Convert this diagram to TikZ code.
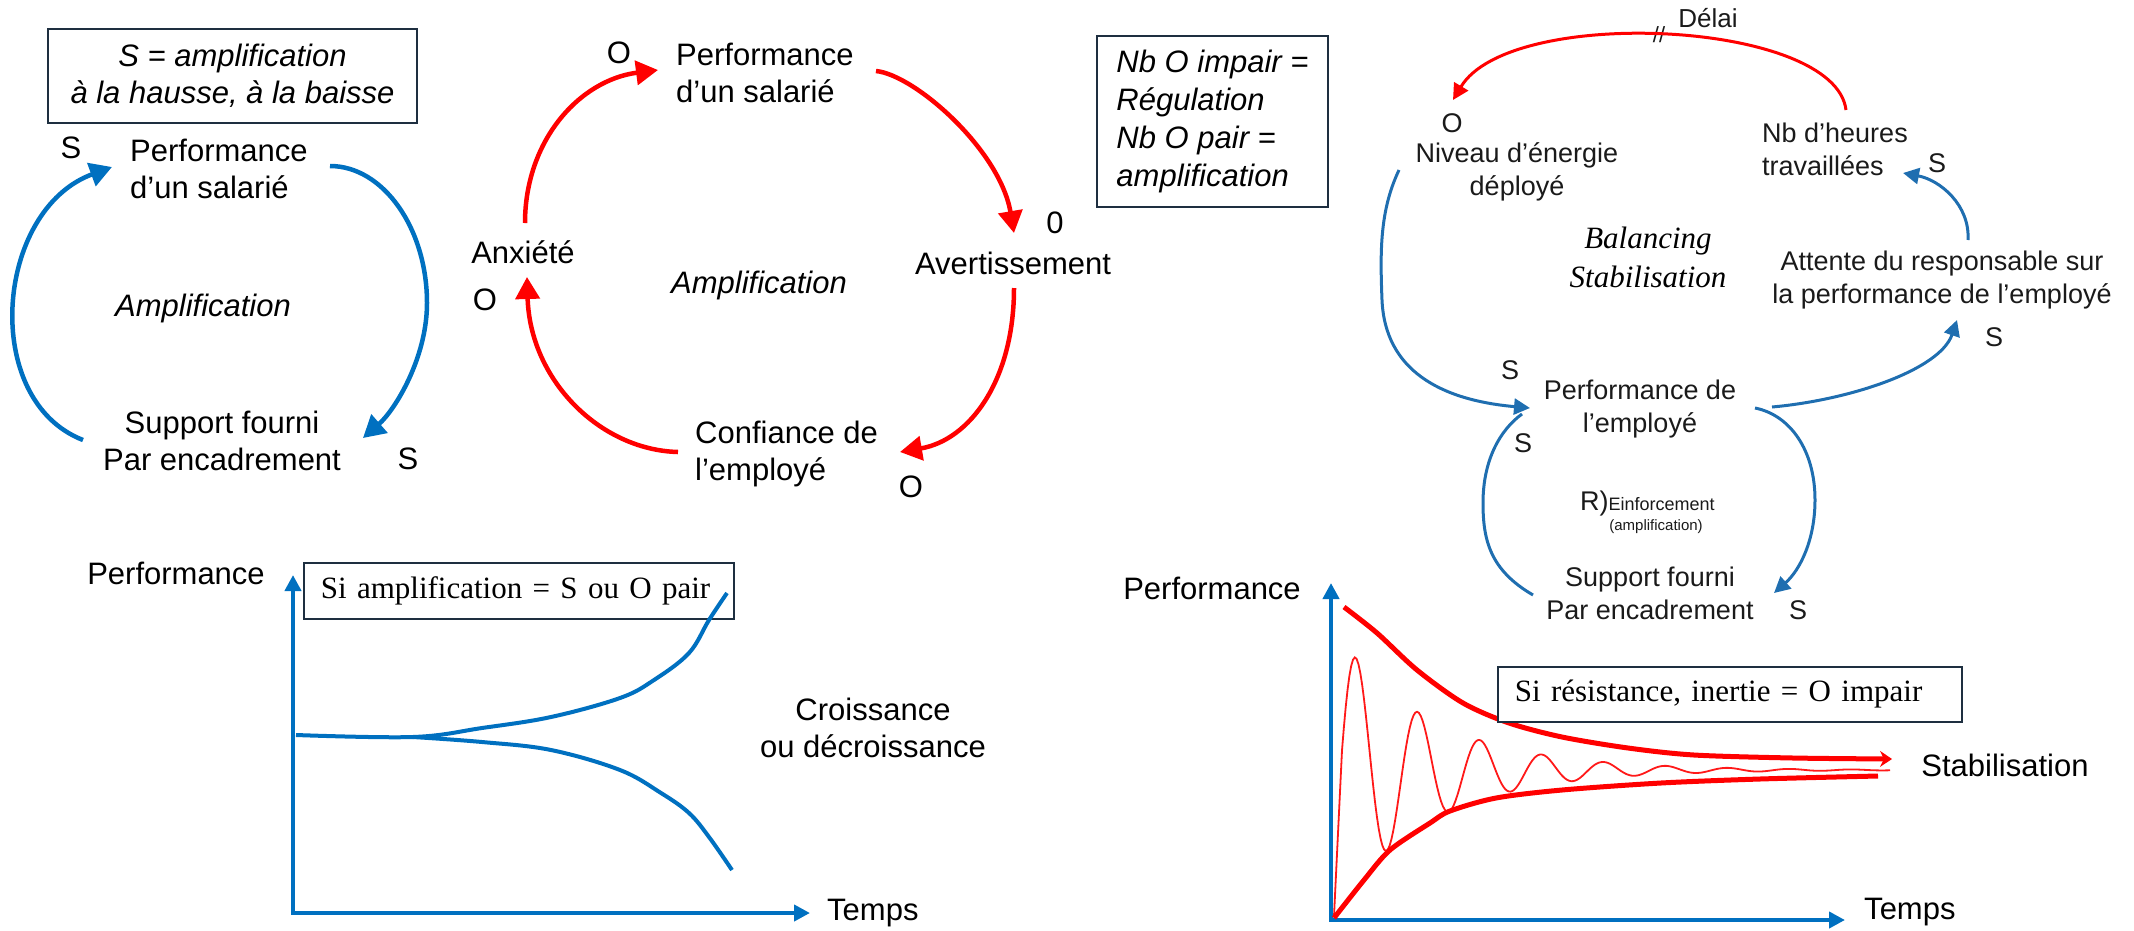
\documentclass[tikz,border=0pt]{standalone}
\usepackage{fontspec}
\setmainfont{Liberation Sans}
\newfontfamily\timesfont{Liberation Serif}
\usetikzlibrary{arrows.meta}
\definecolor{lblue}{HTML}{0070C0}
\definecolor{rblue}{HTML}{1F6EB0}
\definecolor{lred}{HTML}{FF0000}
\definecolor{boxc}{HTML}{1E2F40}
\definecolor{ink}{HTML}{1A1A1A}

\begin{document}
\begin{tikzpicture}[x=1pt,y=1pt,
  lbl/.style={inner sep=0pt, font=\fontsize{31}{37}\selectfont},
  itlbl/.style={inner sep=0pt, font=\fontsize{31}{37}\selectfont\itshape},
  rlbl/.style={inner sep=0pt, font=\fontsize{27}{33}\selectfont, text=ink},
  legend/.style={draw=boxc, line width=1.7pt},
  serifline/.style={font=\timesfont\fontsize{31}{37}\selectfont},
  bigarrow/.style={line width=4.5pt, -{Triangle[length=22pt,width=24pt]}},
  thinarrow/.style={line width=3pt, -{Triangle[length=16pt,width=16pt]}},
  thinline/.style={line width=3pt},
  axis/.style={line width=4pt, lblue, {Triangle[length=16pt,width=16pt]}-{Triangle[length=16pt,width=16pt]}},
]
\useasboundingbox (0,0) rectangle (2134,-930);

% ---------- reinforcing loop, blue ----------
\node[legend, minimum width=369pt, minimum height=94pt, inner sep=0pt, align=center,
      font=\fontsize{31}{37}\selectfont\itshape] (def1) at (232.5,-76)
      {S = amplification\\à la hausse, à la baisse};
\node[lbl, anchor=west, align=left] (perf1) at (130,-168.5) {Performance\\d’un salarié};
\node[lbl] (s1) at (71,-148) {S};
\node[lbl, align=center] (sup1) at (222,-441) {Support fourni\\Par encadrement};
\node[lbl] (s2) at (408,-459) {S};
\node[itlbl] (amp1) at (203,-308) {Amplification};

\draw[bigarrow, lblue] ([shift={(-139,1)}]sup1.center)
  .. controls +(-103,40) and +(-117,-43) .. ([shift={(-18,1.5)}]perf1.west);
\draw[bigarrow, lblue] ([shift={(200,2.5)}]perf1.west)
  .. controls +(53,0) and +(0,75) .. ++(97,-137)
  .. controls +(0,-55) and +(32,28) .. ([shift={(141,3)}]sup1.center);

% ---------- reinforcing loop, red ----------
\node[lbl] (o1) at (619,-53) {O};
\node[lbl, anchor=west, align=left] (perf2) at (676,-72.5) {Performance\\d’un salarié};
\node[lbl] (o2) at (1055,-223) {0};
\node[lbl] (avert) at (1013,-263) {Avertissement};
\node[lbl, anchor=west, align=left] (conf) at (695,-453.5) {Confiance de\\l’employé};
\node[lbl] (o3) at (911,-487) {O};
\node[lbl] (anx) at (523,-252) {Anxiété};
\node[lbl] (o4) at (485,-300) {O};
\node[itlbl] (amp2) at (759,-285) {Amplification};

\draw[bigarrow, lred] ([shift={(2,29)}]anx.center)
  .. controls +(0,83) and +(-78,-10) .. ([shift={(-18,2.5)}]perf2.west);
\draw[bigarrow, lred] ([shift={(200,1.5)}]perf2.west)
  .. controls +(39,-4) and +(-14,83) .. ([shift={(1,30)}]avert.center);
\draw[bigarrow, lred] ([shift={(1,-25)}]avert.center)
  .. controls +(0,-92) and +(70,12) .. ([shift={(205,1.5)}]conf.west);
\draw[bigarrow, lred] ([shift={(-17,1.5)}]conf.west)
  .. controls +(-78,2) and +(3,-103) .. ([shift={(4,-25)}]anx.center);

% ---------- parity rule ----------
\node[legend, minimum width=231pt, minimum height=171pt, inner sep=0pt, align=left,
      font=\fontsize{31}{38}\selectfont\itshape] (def2) at (1212.5,-121.5)
      {Nb O impair =\\Régulation\\Nb O pair =\\amplification};

% ---------- balancing + reinforcing loops ----------
\node[rlbl, align=center] (niv) at (1517,-171.5) {Niveau d’énergie\\déployé};
\node[rlbl] (o5) at (1452,-123) {O};
\node[rlbl, anchor=west, align=left] (nbh) at (1762,-149.5) {Nb d’heures\\travaillées};
\node[rlbl] (s3) at (1937,-163) {S};
\node[rlbl, align=center] (att) at (1942,-280) {Attente du responsable sur\\la performance de l’employé};
\node[rlbl] (s4) at (1994,-337) {S};
\node[inner sep=0pt, align=center, font=\timesfont\itshape\fontsize{31}{39}\selectfont] (bal)
  at (1648,-257.5) {Balancing\\Stabilisation};
\node[rlbl, align=center] (perf3) at (1640,-409) {Performance de\\l’employé};
\node[rlbl] (s5) at (1510,-370) {S};
\node[rlbl] (s6) at (1523,-443) {S};
\node[rlbl, anchor=base west] (reinf) at (1580,-510)
  {\fontsize{27}{30}\selectfont R)\fontsize{18}{20}\selectfont Einforcement};
\node[rlbl, font=\fontsize{15}{17}\selectfont] (ampl3) at (1656,-527) {(amplification)};
\node[rlbl, align=center] (sup3) at (1650,-593.5) {Support fourni\\Par encadrement};
\node[rlbl] (s7) at (1798,-610) {S};
\node[rlbl, font=\fontsize{26}{30}\selectfont] (delai) at (1708,-18) {Délai};
\node[rlbl, font=\fontsize{22}{26}\selectfont] (delaymark) at (1659,-35) {//};

\draw[thinarrow, lred] ([shift={(84,39.5)}]nbh.west)
  .. controls +(-11,90) and +(57,95) .. ([shift={(1,23)}]o5.center);
\draw[thinarrow, rblue] ([shift={(26,40)}]att.center)
  .. controls +(2,35) and +(37,-7) .. ([shift={(141,-23.5)}]nbh.west);
\draw[thinarrow, rblue] ([shift={(132,2)}]perf3.center)
  .. controls +(78,7) and +(-17,-50) .. ([shift={(15,-40)}]att.center);
\draw[thinarrow, rblue] ([shift={(-118,1.5)}]niv.center)
  .. controls +(-19,-40) and +(-2,50) .. ++(-17,-130)
  .. controls +(3,-70) and +(-90,8) .. ([shift={(-110,1)}]perf3.center);
\draw[thinline, rblue] ([shift={(-117,-1.5)}]sup3.center)
  .. controls +(-43,25) and +(0,-37) .. ++(-50,92)
  .. controls +(0,43) and +(-22,-16) .. ([shift={(-118,-5)}]perf3.center);
\draw[thinarrow, rblue] ([shift={(115,1)}]perf3.center)
  .. controls +(35,-7) and +(0,50) .. ++(60,-92)
  .. controls +(0,-40) and +(26,23) .. ([shift={(124,0.5)}]sup3.center);

% ---------- growth / decline chart ----------
\coordinate (oL) at (293,-913);
\coordinate (ytipL) at (293,-575);
\coordinate (xtipL) at (810,-913);
\draw[axis] (ytipL) -- (oL) -- (xtipL);
\node[lbl] (perfL) at (176,-573) {Performance};
\node[lbl, anchor=west] (tempsL) at (827,-913) {Temps};
\node[legend, anchor=west, text width=396pt, inner xsep=17pt, inner ysep=0pt,
      minimum height=56pt, align=left, serifline] (ruleL) at (303,-591)
      {Si amplification = S ou O pair};
\draw[lblue, line width=4pt] plot[smooth, tension=0.6] coordinates
  {(296,-735) (413,-737) (482,-728) (551,-717) (620,-698) (654,-680) (689,-653) (709,-620) (727,-593)};
\draw[lblue, line width=4pt] plot[smooth, tension=0.6] coordinates
  {(413,-737) (482,-742) (551,-750) (620,-770) (661,-793) (689,-813) (709,-837) (732,-870)};
\node[lbl, align=center] (growth) at (873,-727.5) {Croissance\\ou décroissance};

% ---------- damped oscillation chart ----------
\coordinate (oR) at (1331,-920);
\coordinate (ytipR) at (1331,-583);
\coordinate (xtipR) at (1845,-920);
\draw[axis] (ytipR) -- (oR) -- (xtipR);
\node[lbl] (perfR) at (1212,-588) {Performance};
\node[lbl, anchor=west] (tempsR) at (1864,-912) {Temps};
\draw[lred!90, line width=1.8pt] (1334,-916) --
  plot[domain=1342:1890, samples=300] (\x, {-770 + 112*exp(-(\x-1356)/94)*cos((\x-1356)*5.80645)});
\draw[lred, line width=5pt, -{Stealth[length=12pt,width=16pt]}] plot[smooth] coordinates
  {(1344,-607) (1377,-633) (1417,-670) (1463,-703) (1509,-723) (1562,-737) (1628,-748) (1694,-755) (1793,-758) (1892,-759)};
\draw[lred, line width=5pt] plot[smooth] coordinates
  {(1334,-918) (1364,-880) (1390,-850) (1430,-823) (1450,-811) (1496,-798) (1562,-790) (1661,-783) (1760,-779) (1878,-776)};
\node[legend, fill=white, anchor=west, text width=430pt, inner xsep=17pt, inner ysep=0pt,
      minimum height=55pt, align=left, serifline] (ruleR) at (1497,-694.5)
      {Si résistance, inertie = O impair};
\node[lbl] (stab) at (2005,-765) {Stabilisation};

\end{tikzpicture}
\end{document}
